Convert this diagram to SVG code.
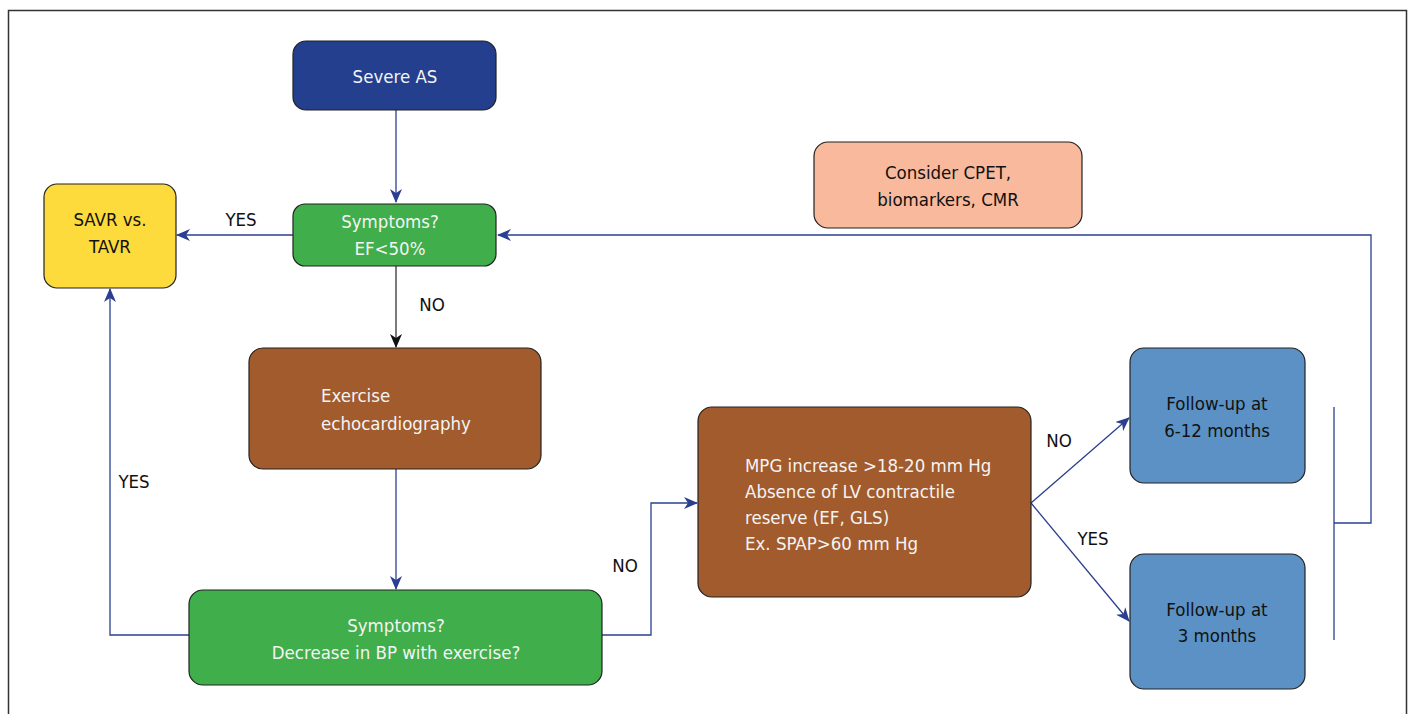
<svg xmlns="http://www.w3.org/2000/svg" width="1412" height="714" viewBox="0 0 1412 714">
<defs>
<style>
.box{stroke:#222;stroke-width:1.2}
.t{font-family:"Liberation Sans Narrow","DejaVu Sans Condensed","Liberation Sans",sans-serif;font-size:18.5px}
.w{fill:#f4f4f4}
.k{fill:#111}
.c{stroke:#2b3f91;stroke-width:1.3;fill:none}
.lbl{font-family:"Liberation Sans Narrow","DejaVu Sans Condensed","Liberation Sans",sans-serif;font-size:18.5px;fill:#111}
</style>
<marker id="ab" viewBox="0 0 14 12" refX="13" refY="6" markerWidth="14" markerHeight="12" markerUnits="userSpaceOnUse" orient="auto">
<path d="M0,0 L14,6 L0,12 L4,6 Z" fill="#2b3f91"/>
</marker>
<marker id="ak" viewBox="0 0 14 12" refX="13" refY="6" markerWidth="14" markerHeight="12" markerUnits="userSpaceOnUse" orient="auto">
<path d="M0,0 L14,6 L0,12 L4,6 Z" fill="#111"/>
</marker>
</defs>
<rect width="1412" height="714" fill="#fff"/>
<g id="frame">
<path d="M8.5,714 V10.5 H1406.5 V714" fill="none" stroke="#333" stroke-width="1.5"/>
</g>
<g id="connectors">
<path class="c" d="M396,110 V202" marker-end="url(#ab)"/>
<path class="c" d="M293,235 H177" marker-end="url(#ab)"/>
<path d="M396,266 V347" stroke="#333" stroke-width="1.3" fill="none" marker-end="url(#ak)"/>
<path class="c" d="M396,469 V589" marker-end="url(#ab)"/>
<path class="c" d="M189,635 H110 V289" marker-end="url(#ab)"/>
<path class="c" d="M602,635 H651 V503 H697" marker-end="url(#ab)"/>
<path class="c" d="M1031,503 L1129,418" marker-end="url(#ab)"/>
<path class="c" d="M1031,503 L1129,621" marker-end="url(#ab)"/>
<path class="c" d="M1334,407 V640"/>
<path class="c" d="M1334,523 H1371 V235 H498" marker-end="url(#ab)"/>
<text class="lbl" x="241" y="226" text-anchor="middle">YES</text>
<text class="lbl" x="432" y="311" text-anchor="middle">NO</text>
<text class="lbl" x="134" y="488" text-anchor="middle">YES</text>
<text class="lbl" x="625" y="572" text-anchor="middle">NO</text>
<text class="lbl" x="1059" y="447" text-anchor="middle">NO</text>
<text class="lbl" x="1093" y="545" text-anchor="middle">YES</text>
</g>
<g id="severe-as">
<rect class="box" x="293" y="41" width="203" height="69" rx="13" fill="#233f8e"/>
<text class="t w" x="395" y="83" text-anchor="middle">Severe AS</text>
</g>
<g id="symptoms-ef">
<rect class="box" x="293" y="204" width="203" height="62" rx="12" fill="#40ae4b"/>
<text class="t w" x="390" y="228" text-anchor="middle">Symptoms?</text>
<text class="t w" x="390" y="255" text-anchor="middle">EF&lt;50%</text>
</g>
<g id="savr-tavr">
<rect class="box" x="44" y="184" width="132" height="104" rx="13" fill="#fddb3d"/>
<text class="t k" x="110" y="226" text-anchor="middle">SAVR vs.</text>
<text class="t k" x="110" y="253" text-anchor="middle">TAVR</text>
</g>
<g id="exercise-echo">
<rect class="box" x="249" y="348" width="292" height="121" rx="14" fill="#a25b2d"/>
<text class="t w" x="321" y="402">Exercise</text>
<text class="t w" x="321" y="430">echocardiography</text>
</g>
<g id="symptoms-bp">
<rect class="box" x="189" y="590" width="413" height="95" rx="14" fill="#40ae4b"/>
<text class="t w" x="396" y="632" text-anchor="middle">Symptoms?</text>
<text class="t w" x="396" y="659" text-anchor="middle">Decrease in BP with exercise?</text>
</g>
<g id="mpg">
<rect class="box" x="698" y="407" width="333" height="190" rx="14" fill="#a25b2d"/>
<text class="t w" x="745" y="472">MPG increase &gt;18-20 mm Hg</text>
<text class="t w" x="745" y="498">Absence of LV contractile</text>
<text class="t w" x="745" y="524">reserve (EF, GLS)</text>
<text class="t w" x="745" y="550">Ex. SPAP&gt;60 mm Hg</text>
</g>
<g id="followup-6-12">
<rect class="box" x="1130" y="348" width="175" height="135" rx="14" fill="#5b91c4"/>
<text class="t k" x="1217" y="410" text-anchor="middle">Follow-up at</text>
<text class="t k" x="1217" y="437" text-anchor="middle">6-12 months</text>
</g>
<g id="followup-3">
<rect class="box" x="1130" y="554" width="175" height="135" rx="14" fill="#5b91c4"/>
<text class="t k" x="1217" y="616" text-anchor="middle">Follow-up at</text>
<text class="t k" x="1217" y="642" text-anchor="middle">3 months</text>
</g>
<g id="consider-cpet">
<rect class="box" x="814" y="142" width="268" height="86" rx="14" fill="#f8b99c"/>
<text class="t k" x="948" y="179" text-anchor="middle">Consider CPET,</text>
<text class="t k" x="948" y="206" text-anchor="middle">biomarkers, CMR</text>
</g>
</svg>
